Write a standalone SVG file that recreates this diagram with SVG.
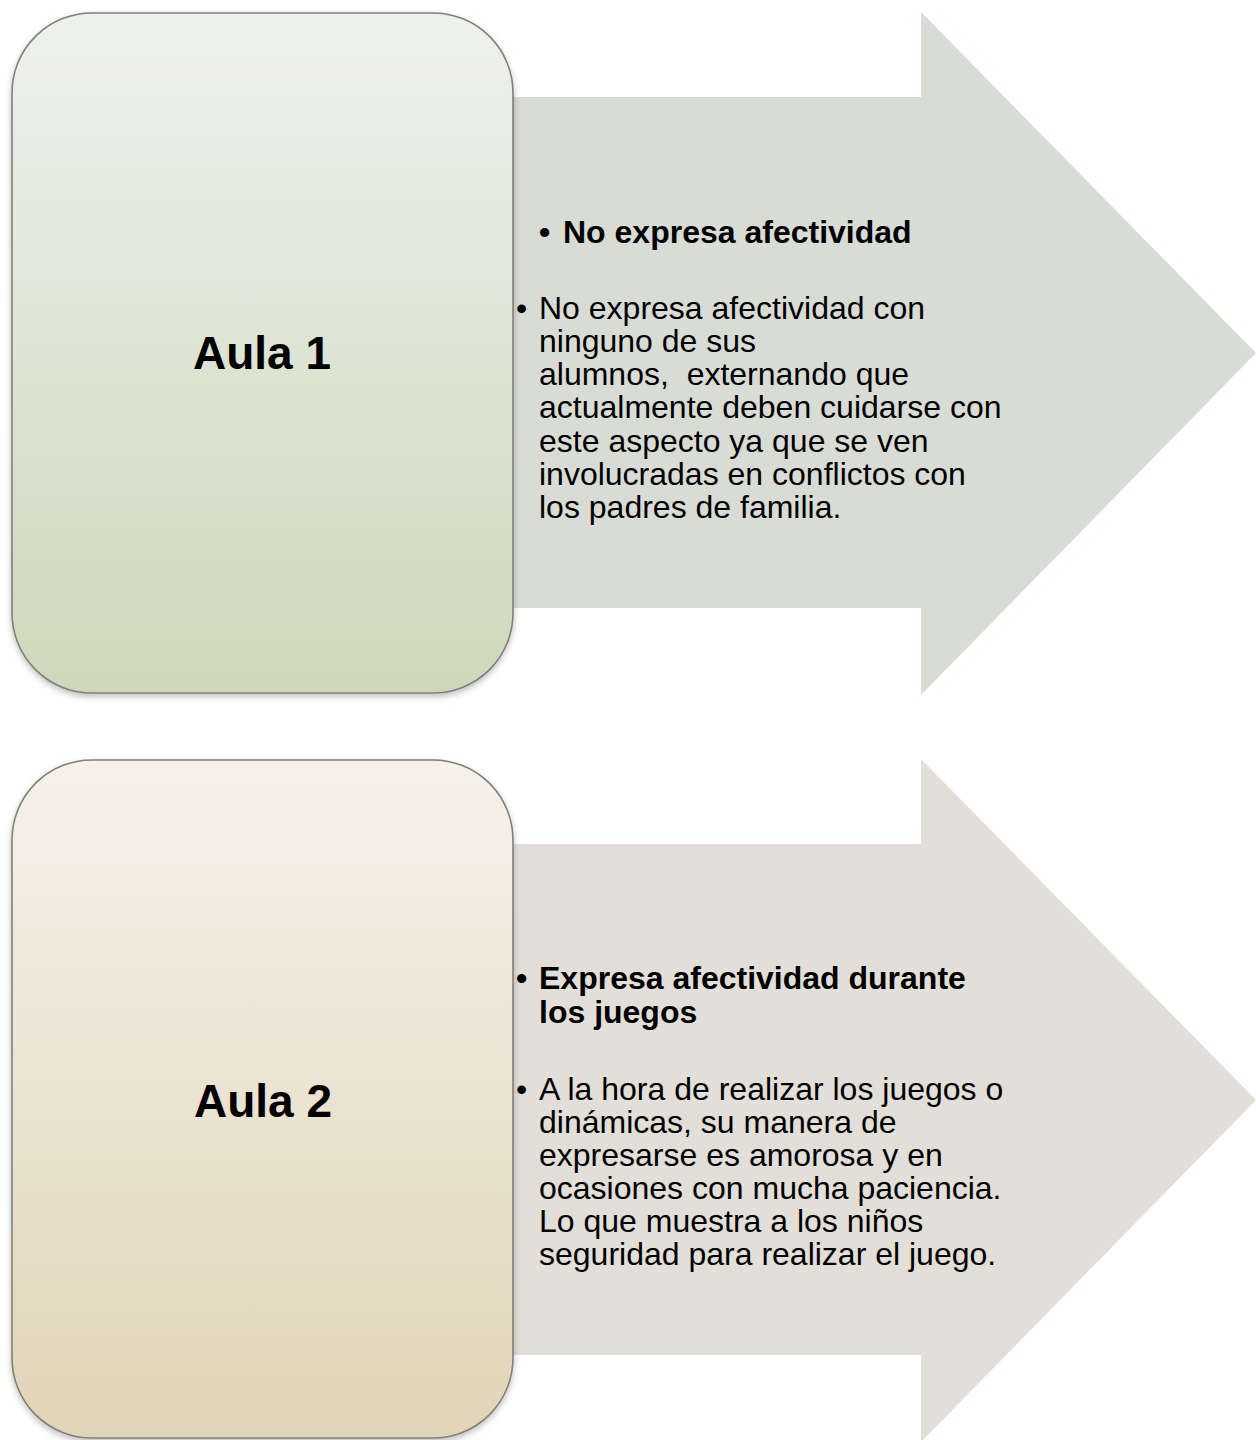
<svg xmlns="http://www.w3.org/2000/svg" width="1256" height="1440" viewBox="0 0 1256 1440">
<defs>
<linearGradient id="g1" x1="0" y1="0" x2="0" y2="1">
<stop offset="0" stop-color="#eff1ec"/>
<stop offset="1" stop-color="#ccd8bb"/>
</linearGradient>
<linearGradient id="g2" x1="0" y1="0" x2="0" y2="1">
<stop offset="0" stop-color="#f6f2ea"/>
<stop offset="1" stop-color="#e0d4b8"/>
</linearGradient>
<filter id="sh" x="-10%" y="-10%" width="120%" height="120%">
<feDropShadow dx="0" dy="3" stdDeviation="3" flood-color="#000" flood-opacity="0.25"/>
</filter>
</defs>
<style>
.box{stroke:#7f8177;stroke-width:1.6;filter:url(#sh)}
.t{font-family:"Liberation Sans",Arial,sans-serif;fill:#000;white-space:pre}
.aula{font-size:46px;font-weight:bold;text-anchor:middle}
.b{font-size:32px;font-weight:bold}
.r{font-size:32px}
</style>
<rect width="1256" height="1440" fill="#ffffff"/>
<g id="connectors">
<polygon id="arrow1" points="480,97 921,97 921,12 1256,353 921,695 921,608 480,608" fill="#d9dcd5"/>
<polygon id="arrow2" points="480,844 921,844 921,759 1256,1100 921,1442 921,1355 480,1355" fill="#e1dfd8"/>
</g>
<g id="node-aula1">
<rect class="box" x="12" y="13" width="501" height="680" rx="80" ry="80" fill="url(#g1)"/>
<text class="t aula" x="262" y="369">Aula 1</text>
</g>
<g id="node-aula2">
<rect class="box" x="12" y="760" width="501" height="678" rx="80" ry="80" fill="url(#g2)"/>
<text class="t aula" x="263" y="1117">Aula 2</text>
</g>
<g id="text-aula1">
<text class="t b" x="539" y="243">•</text>
<text class="t b" x="563" y="243">No expresa afectividad</text>
<text class="t r" x="516" y="319">•</text>
<text class="t r"><tspan x="539" y="319">No expresa afectividad con</tspan><tspan x="539" y="352">ninguno de sus</tspan><tspan x="539" y="385">alumnos,  externando que</tspan><tspan x="539" y="418">actualmente deben cuidarse con</tspan><tspan x="539" y="452">este aspecto ya que se ven</tspan><tspan x="539" y="485">involucradas en conflictos con</tspan><tspan x="539" y="518">los padres de familia.</tspan></text>
</g>
<g id="text-aula2">
<text class="t b" x="516" y="989">•</text>
<text class="t b"><tspan x="539" y="989">Expresa afectividad durante</tspan><tspan x="539" y="1023">los juegos</tspan></text>
<text class="t r" x="516" y="1100">•</text>
<text class="t r"><tspan x="539" y="1100">A la hora de realizar los juegos o</tspan><tspan x="539" y="1133">dinámicas, su manera de</tspan><tspan x="539" y="1166">expresarse es amorosa y en</tspan><tspan x="539" y="1199">ocasiones con mucha paciencia.</tspan><tspan x="539" y="1232">Lo que muestra a los niños</tspan><tspan x="539" y="1265">seguridad para realizar el juego.</tspan></text>
</g>
</svg>
